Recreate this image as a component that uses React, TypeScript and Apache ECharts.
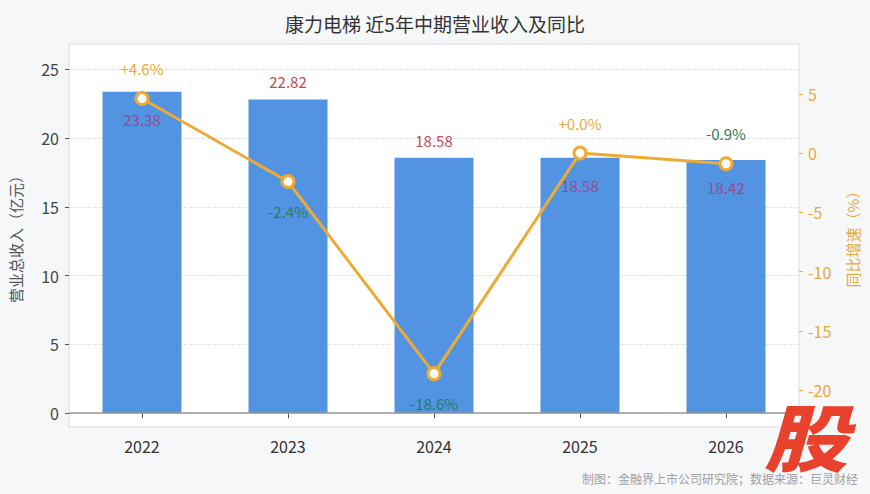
import React, { useEffect, useRef } from 'react';
import * as echarts from 'echarts';

const years = ['2022', '2023', '2024', '2025', '2026'];
const revenue = [23.38, 22.82, 18.58, 18.58, 18.42];
const yoy = [4.6, -2.4, -18.6, 0.0, -0.9];
const revenueTicks = [0, 5, 10, 15, 20, 25];
const yoyTicks = [-20, -15, -10, -5, 0, 5];
const revenueLabelInside = [true, false, false, true, true];
const yoyLabelAbove = [true, false, false, true, true];

const FONT = "'Noto Sans CJK SC', 'Noto Sans', sans-serif";
const BLUE = '#5294e2';
const ORANGE = '#eeaa33';
const RED = '#c24a55';
const RED_ON_BLUE = '#9b4a8c';
const GREEN = '#2a7a5e';

export default function App() {
  const ref = useRef<HTMLDivElement>(null);
  useEffect(() => {
    if (!ref.current) return;
    const chart = echarts.init(ref.current, null, { renderer: 'svg' });
    const option: any = {
      animation: false,
      backgroundColor: '#f6f7f9',
      textStyle: { fontFamily: FONT },
      title: {
        text: '康力电梯 近5年中期营业收入及同比',
        left: 'center',
        top: 9,
        textStyle: { fontSize: 19, color: '#333', fontWeight: 'normal', fontFamily: FONT },
      },
      grid: {
        left: 66,
        right: 71,
        top: 44,
        bottom: 67,
        show: true,
        backgroundColor: '#ffffff',
        borderColor: '#e3e6ea',
        borderWidth: 1.5,
      },
      xAxis: {
        type: 'category',
        data: years,
        axisLine: { show: false },
        axisTick: { show: true, alignWithLabel: true, length: 5, lineStyle: { color: '#555' } },
        axisLabel: { color: '#333', fontSize: 16, margin: 11, fontFamily: FONT },
        splitLine: { show: false },
      },
      yAxis: [
        {
          type: 'value',
          position: 'left',
          min: -1.0,
          max: 26.85,
          axisLine: { show: false },
          axisTick: { show: true, length: 4, customValues: revenueTicks, lineStyle: { color: '#555' } },
          axisLabel: { customValues: revenueTicks, color: '#444', fontSize: 16, margin: 10, fontFamily: FONT },
          splitLine: { show: true, lineStyle: { color: '#e4e4e4', type: 'dashed' } },
          name: '营业总收入（亿元）',
          nameLocation: 'middle',
          nameGap: 46,
          nameRotate: 90,
          nameTextStyle: { color: '#555', fontSize: 15, fontFamily: FONT },
        },
        {
          type: 'value',
          position: 'right',
          min: -23.1,
          max: 9.2,
          axisLine: { show: false },
          axisTick: { show: true, length: 4, customValues: yoyTicks, lineStyle: { color: ORANGE } },
          axisLabel: { customValues: yoyTicks, color: '#e9a93a', fontSize: 16, margin: 9, fontFamily: FONT },
          splitLine: { show: false },
          name: '同比增速（%）',
          nameLocation: 'middle',
          nameGap: 46,
          nameRotate: 90,
          nameTextStyle: { color: '#e9a93a', fontSize: 15, fontFamily: FONT },
        },
      ],
      series: [
        {
          type: 'bar',
          yAxisIndex: 0,
          barWidth: 79,
          itemStyle: { color: BLUE },
          data: revenue.map((v, i) => ({
            value: v,
            label: {
              show: true,
              position: revenueLabelInside[i] ? 'insideTop' : 'top',
              distance: revenueLabelInside[i] ? 20 : 10,
              color: revenueLabelInside[i] ? RED_ON_BLUE : RED,
              fontSize: 15,
              fontFamily: FONT,
              formatter: (p: any) => Number(p.value).toFixed(2),
            },
          })),
          markLine: {
            silent: true,
            symbol: 'none',
            label: { show: false },
            lineStyle: { color: '#999', width: 1.5, type: 'solid' },
            data: [{ yAxis: 0 }],
          },
        },
        {
          type: 'line',
          yAxisIndex: 1,
          symbol: 'circle',
          symbolSize: 12,
          lineStyle: { color: ORANGE, width: 3 },
          itemStyle: { color: '#ffffff', borderColor: ORANGE, borderWidth: 3 },
          z: 3,
          data: yoy.map((v, i) => ({
            value: v,
            label: {
              show: true,
              position: yoyLabelAbove[i] ? 'top' : 'bottom',
              distance: 15,
              color: v >= 0 ? '#e9a93a' : GREEN,
              fontSize: 15,
              fontFamily: FONT,
              formatter: (p: any) => (p.value >= 0 ? '+' : '') + Number(p.value).toFixed(1) + '%',
            },
          })),
        },
      ],
      graphic: [
        {
          type: 'text',
          right: 12,
          bottom: 10,
          z: 10,
          style: {
            text: '制图：金融界上市公司研究院；数据来源：巨灵财经',
            fill: '#a0a0a0',
            fontSize: 12,
            fontFamily: FONT,
          },
        },
        {
          type: 'text',
          x: 806,
          y: 434,
          scaleX: 1.15,
          z: 20,
          style: {
            text: '股',
            fill: '#e8412c',
            fontSize: 73,
            fontWeight: 900,
            fontStyle: 'italic',
            fontFamily: FONT,
            align: 'center',
            verticalAlign: 'middle',
          },
        },
      ],
    };
    chart.setOption(option);
    return () => chart.dispose();
  }, []);
  return <div ref={ref} style={{ position: 'fixed', left: 0, top: 0, width: 870, height: 494 }} />;
}
